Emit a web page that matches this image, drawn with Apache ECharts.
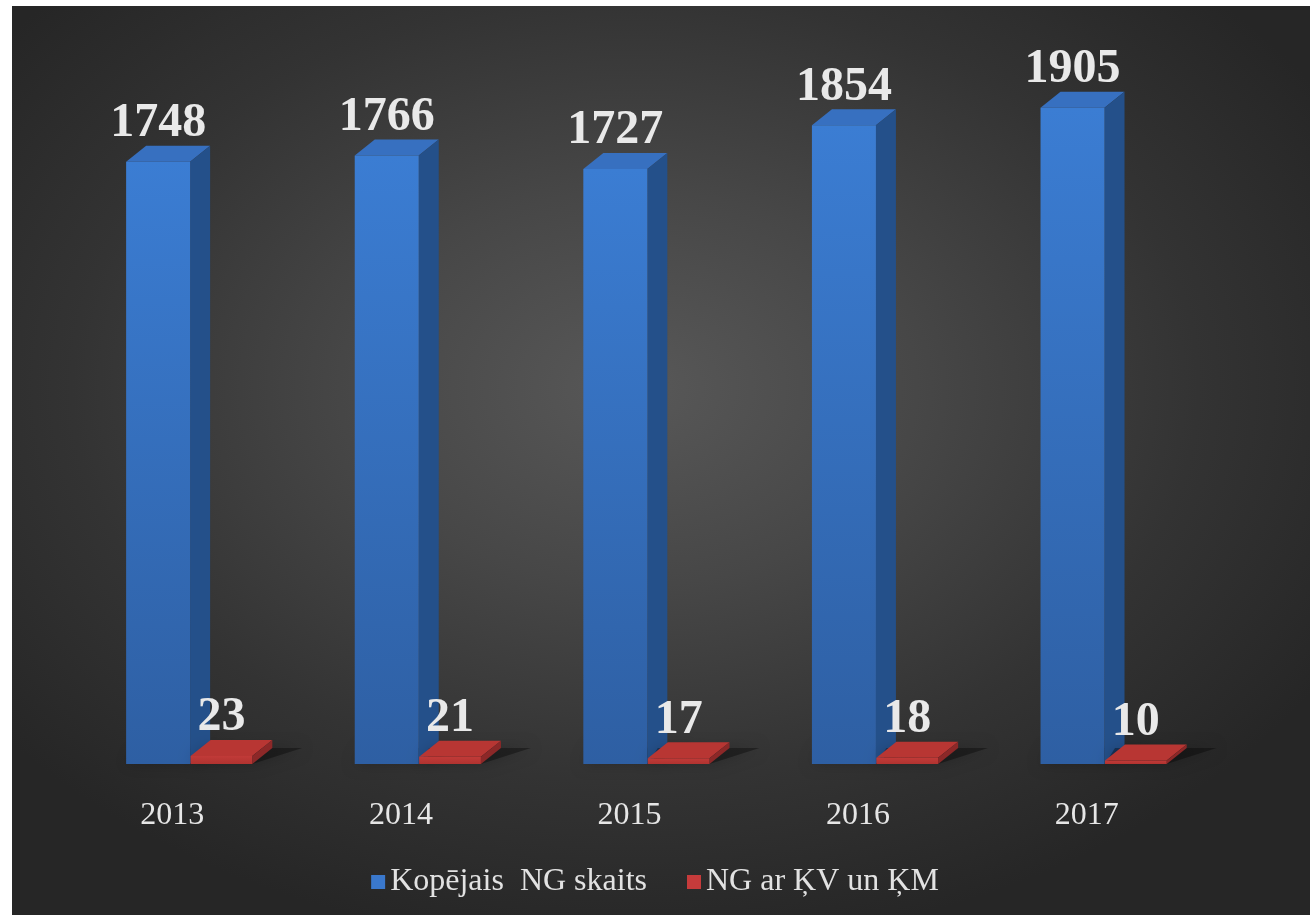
<!DOCTYPE html>
<html>
<head>
<meta charset="utf-8">
<script src="https://cdn.jsdelivr.net/npm/echarts@6/dist/echarts.min.js"></script>
<style>
  html, body { margin: 0; padding: 0; background: #ffffff; }
  #bg {
    position: absolute; left: 12px; top: 6px; width: 1298px; height: 909px;
    background: radial-gradient(ellipse 62% 62% at 48% 42%, #585858 0%, #474747 35%, #333333 70%, #262626 100%);
  }
  #main { position: absolute; left: 0; top: 0; width: 1310px; height: 915px; }
</style>
</head>
<body>
<div id="bg"></div>
<div id="main"></div>
<script>
const years = ['2013', '2014', '2015', '2016', '2017']
const totalNG = [1748, 1766, 1727, 1854, 1905]
const ngKVKM = [23, 21, 17, 18, 10]
const seriesNames = ['Kopējais  NG skaits', 'NG ar ĶV un ĶM']

const FONT = 'Liberation Serif'

// draws a box: front face, right side, top face + value label
const boxRenderer = (offL, offR, colors) => (params, api) => {
    const idx = api.value(0)
    const val = api.value(1)
    const top = api.coord([idx, val])
    const base = api.coord([idx, 0])
    const bw = api.size([1, 0])[0]
    const x0 = top[0] + offL * bw
    const x1 = top[0] + offR * bw
    const y0 = base[1]
    const y1 = top[1]
    const dx = 20, dy = -16
    return {
        type: 'group',
        children: [
            {
                type: 'polygon',
                shape: { points: [[x0, y0], [x1, y0], [x1 + dx + 30, y0 + dy], [x0 + 10, y0 + dy]] },
                style: { fill: 'rgba(0,0,0,0.35)', shadowBlur: 14, shadowColor: 'rgba(0,0,0,0.6)' },
                silent: true
            },
            {
                type: 'polygon',
                shape: { points: [[x0, y1], [x0 + dx, y1 + dy], [x1 + dx, y1 + dy], [x1, y1]] },
                style: { fill: colors.top }
            },
            {
                type: 'polygon',
                shape: { points: [[x1, y1], [x1 + dx, y1 + dy], [x1 + dx, y0 + dy], [x1, y0]] },
                style: { fill: colors.side }
            },
            {
                type: 'rect',
                shape: { x: x0, y: y1, width: x1 - x0, height: y0 - y1 },
                style: {
                    fill: new echarts.graphic.LinearGradient(0, 0, 0, 1, [
                        { offset: 0, color: colors.front[0] },
                        { offset: 1, color: colors.front[1] }
                    ])
                }
            },
            {
                type: 'text',
                x: (x0 + x1) / 2,
                y: y1 + dy + 2,
                style: {
                    text: String(val),
                    fill: '#e9e9e9',
                    font: 'bold 48px "Liberation Serif", serif',
                    align: 'center',
                    verticalAlign: 'bottom'
                }
            }
        ]
    }
}

const myChart = echarts.init(document.getElementById('main'), null, { renderer: 'canvas' })

myChart.setOption({
    backgroundColor: 'transparent',
    animation: false,
    grid: { left: 58, right: 109, top: 75, bottom: 151 },
    legend: {
        bottom: 12,
        left: 'center',
        itemWidth: 14,
        itemHeight: 14,
        itemGap: 40,
        icon: 'rect',
        textStyle: { fontSize: 32, fontFamily: FONT, color: '#e2e2e2' },
        data: seriesNames
    },
    xAxis: {
        type: 'category',
        data: years,
        axisLine: { show: false },
        axisTick: { show: false },
        axisLabel: { fontSize: 32, fontFamily: FONT, color: '#e6e6e6', margin: 36 }
    },
    yAxis: {
        type: 'value',
        min: 0,
        max: 2000,
        show: false,
        splitLine: { show: false }
    },
    series: [
        {
            name: seriesNames[0],
            type: 'custom',
            itemStyle: { color: '#3a78cc' },
            data: totalNG.map((v, i) => [i, v]),
            renderItem: boxRenderer(-0.202, 0.078, {
                front: ['#3b7dd3', '#2e5fa3'],
                side: '#24508a',
                top: '#3770c0'
            })
        },
        {
            name: seriesNames[1],
            type: 'custom',
            itemStyle: { color: '#c63b3b' },
            data: ngKVKM.map((v, i) => [i, v]),
            renderItem: boxRenderer(0.08, 0.35, {
                front: ['#c13a38', '#b03330'],
                side: '#8c2828',
                top: '#b83633'
            })
        }
    ]
})
</script>
</body>
</html>
